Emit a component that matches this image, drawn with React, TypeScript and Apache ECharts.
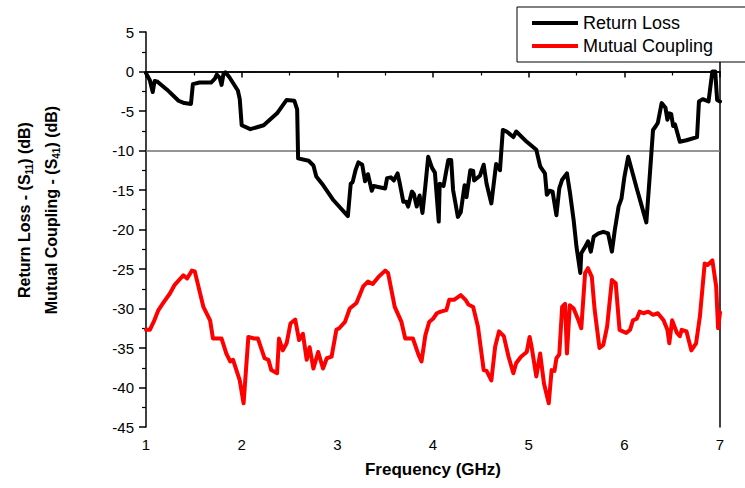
import React, { useEffect, useRef } from "react";
import * as echarts from "echarts";

// [frequency GHz, dB]
const returnLossPoints: [number, number][] = [
  [1.00,-0.2],[1.04,-1.1],[1.07,-2.6],[1.09,-1.2],[1.12,-1.3],[1.22,-2.3],[1.34,-3.7],[1.40,-4.0],[1.47,-4.1],[1.49,-1.6],
  [1.56,-1.4],[1.68,-1.4],[1.72,-0.9],[1.74,-0.4],[1.77,-0.8],[1.79,-1.7],[1.81,-0.3],[1.83,-0.1],[1.87,-0.7],[1.96,-2.4],
  [1.98,-3.5],[2.00,-6.8],[2.09,-7.3],[2.23,-6.8],[2.37,-5.3],[2.47,-3.6],[2.55,-3.7],[2.58,-4.8],[2.59,-11.0],[2.70,-11.3],
  [2.75,-11.9],[2.78,-13.3],[2.84,-14.2],[2.96,-16.3],[3.11,-18.3],[3.14,-14.2],[3.16,-14.0],[3.19,-12.5],[3.22,-11.5],[3.26,-11.8],
  [3.29,-13.9],[3.32,-13.0],[3.36,-15.1],[3.38,-14.5],[3.50,-14.8],[3.52,-13.5],[3.56,-13.4],[3.59,-13.8],[3.63,-12.9],[3.65,-14.0],
  [3.69,-16.5],[3.72,-16.5],[3.74,-17.1],[3.78,-15.2],[3.80,-15.5],[3.83,-17.1],[3.86,-15.7],[3.89,-17.9],[3.92,-14.5],[3.95,-10.8],
  [3.99,-12.2],[4.02,-12.8],[4.06,-19.0],[4.07,-14.2],[4.11,-14.5],[4.16,-11.2],[4.19,-11.2],[4.21,-15.0],[4.26,-18.4],[4.29,-17.8],
  [4.33,-14.4],[4.35,-15.9],[4.39,-12.5],[4.42,-12.6],[4.43,-13.8],[4.49,-13.2],[4.53,-11.8],[4.56,-14.2],[4.61,-16.7],[4.65,-12.7],
  [4.66,-11.7],[4.70,-12.5],[4.73,-7.4],[4.77,-7.6],[4.84,-8.3],[4.87,-7.6],[4.98,-8.9],[5.08,-9.9],[5.12,-12.0],[5.17,-12.9],
  [5.19,-15.6],[5.22,-15.1],[5.25,-15.2],[5.29,-18.2],[5.32,-14.8],[5.35,-13.7],[5.40,-12.9],[5.43,-15.2],[5.47,-18.8],[5.50,-22.2],
  [5.54,-25.5],[5.55,-23.0],[5.59,-22.2],[5.62,-21.5],[5.65,-22.8],[5.68,-20.9],[5.73,-20.5],[5.78,-20.3],[5.83,-20.5],[5.87,-22.8],
  [5.90,-20.1],[5.94,-17.1],[5.97,-16.1],[6.00,-13.4],[6.04,-10.8],[6.13,-14.8],[6.23,-19.1],[6.27,-12.5],[6.30,-7.4],[6.33,-6.9],
  [6.35,-6.5],[6.39,-4.0],[6.43,-4.6],[6.45,-6.1],[6.47,-5.3],[6.49,-5.4],[6.51,-6.9],[6.53,-6.7],[6.58,-8.9],[6.65,-8.7],
  [6.76,-8.3],[6.78,-3.8],[6.82,-3.5],[6.88,-3.8],[6.92,0.0],[6.95,0.0],[6.97,-3.6],[7.00,-3.8]
];

const mutualCouplingPoints: [number, number][] = [
  [1.00,-32.7],[1.04,-32.7],[1.08,-31.7],[1.13,-30.2],[1.18,-29.3],[1.25,-28.1],[1.30,-27.0],[1.36,-26.2],[1.39,-25.8],[1.43,-26.2],
  [1.48,-25.2],[1.51,-25.3],[1.60,-29.8],[1.67,-31.5],[1.70,-33.8],[1.79,-33.8],[1.84,-35.7],[1.88,-36.7],[1.91,-36.5],[1.95,-38.0],
  [1.98,-39.1],[2.02,-42.0],[2.07,-33.6],[2.13,-33.8],[2.17,-33.8],[2.24,-36.3],[2.28,-36.5],[2.31,-37.8],[2.37,-38.2],[2.39,-33.8],
  [2.43,-35.3],[2.47,-34.4],[2.51,-31.9],[2.56,-31.4],[2.60,-34.0],[2.64,-33.2],[2.68,-36.5],[2.71,-34.9],[2.75,-37.6],[2.80,-35.5],
  [2.85,-37.6],[2.89,-36.3],[2.94,-36.1],[2.99,-32.7],[3.02,-32.5],[3.08,-31.7],[3.13,-30.0],[3.20,-29.3],[3.27,-27.2],[3.32,-26.6],
  [3.37,-26.9],[3.43,-26.0],[3.50,-25.2],[3.53,-25.5],[3.60,-29.8],[3.67,-31.7],[3.71,-33.8],[3.79,-33.8],[3.85,-35.9],[3.88,-36.7],
  [3.92,-33.4],[3.96,-31.7],[4.00,-31.3],[4.04,-30.6],[4.08,-30.4],[4.14,-30.2],[4.17,-28.9],[4.22,-28.9],[4.29,-28.3],[4.34,-28.9],
  [4.37,-29.5],[4.42,-29.8],[4.47,-32.3],[4.53,-37.8],[4.56,-37.9],[4.61,-39.1],[4.65,-34.8],[4.69,-32.9],[4.74,-33.5],[4.79,-36.1],
  [4.84,-38.2],[4.87,-36.9],[4.92,-36.1],[4.98,-35.5],[5.01,-33.6],[5.03,-34.8],[5.08,-38.6],[5.12,-35.7],[5.16,-39.5],[5.21,-42.0],
  [5.24,-37.8],[5.27,-37.9],[5.29,-36.3],[5.32,-35.8],[5.35,-29.8],[5.38,-29.4],[5.40,-35.7],[5.43,-29.6],[5.47,-30.0],[5.52,-31.5],
  [5.55,-32.5],[5.59,-25.5],[5.62,-24.9],[5.66,-26.0],[5.69,-30.2],[5.74,-35.0],[5.78,-34.6],[5.82,-32.3],[5.87,-26.4],[5.91,-26.8],
  [5.95,-32.7],[6.02,-33.1],[6.06,-32.7],[6.09,-31.5],[6.13,-31.3],[6.16,-30.4],[6.20,-30.6],[6.25,-30.4],[6.30,-30.8],[6.35,-30.6],
  [6.41,-31.5],[6.45,-32.7],[6.47,-34.4],[6.50,-31.5],[6.55,-33.1],[6.58,-33.5],[6.60,-32.7],[6.65,-32.9],[6.70,-35.3],[6.75,-34.4],
  [6.79,-31.0],[6.84,-24.3],[6.87,-24.5],[6.92,-23.9],[6.96,-27.2],[6.98,-32.5],[7.00,-30.5]
];

const seriesNames = ["Return Loss", "Mutual Coupling"];
const thresholdDb = -10;
const xRange = { min: 1, max: 7, interval: 1 };
const yRange = { min: -45, max: 5, interval: 5 };

const FONT = "'Liberation Sans', Arial, sans-serif";

export default function App() {
  const ref = useRef<HTMLDivElement>(null);
  useEffect(() => {
    if (!ref.current) return;
    const chart = echarts.init(ref.current, undefined, { renderer: "svg" });
    const axisLine = { show: true, lineStyle: { color: "#000", width: 1.5 } };
    const titleRich = {
      b: { fontSize: 16, fontWeight: "bold", fontFamily: FONT, color: "#000", lineHeight: 20 },
      s: { fontSize: 10, fontWeight: "bold", fontFamily: FONT, color: "#000", lineHeight: 12, verticalAlign: "bottom" },
    };
    chart.setOption({
      animation: false,
      backgroundColor: "#fff",
      grid: { left: 146, right: 25, top: 32, bottom: 61, containLabel: false },
      legend: {
        data: seriesNames,
        orient: "vertical",
        left: 517,
        top: 7,
        icon: "rect",
        itemWidth: 46,
        itemHeight: 4,
        itemGap: 5,
        padding: [7, 60, 7, 15],
        backgroundColor: "#fff",
        borderColor: "#000",
        borderWidth: 1,
        borderRadius: 0,
        selectedMode: false,
        textStyle: { fontSize: 18, color: "#000", fontFamily: FONT, lineHeight: 18, padding: [0, 0, 0, 0] },
      },
      xAxis: [
        {
          type: "value",
          ...xRange,
          position: "bottom",
          axisLine,
          axisTick: { show: true, inside: false, length: 6, lineStyle: { color: "#000", width: 1.5 } },
          minorTick: { show: true, splitNumber: 2, length: 4, lineStyle: { color: "#000", width: 1.2 } },
          axisLabel: { fontSize: 15, color: "#000", fontFamily: FONT, margin: 10 },
          splitLine: { show: false },
          name: "Frequency (GHz)",
          nameLocation: "middle",
          nameGap: 34,
          nameTextStyle: { fontSize: 17, fontWeight: "bold", color: "#000", fontFamily: FONT },
        },
        {
          type: "value",
          ...xRange,
          position: "top",
          axisLine,
          axisTick: { show: false },
          axisLabel: { show: false },
          splitLine: { show: false },
        },
      ],
      yAxis: [
        {
          type: "value",
          ...yRange,
          position: "left",
          axisLine,
          axisTick: { show: true, inside: false, length: 7, lineStyle: { color: "#000", width: 1.5 } },
          minorTick: { show: true, splitNumber: 2, length: 4, lineStyle: { color: "#000", width: 1.2 } },
          axisLabel: { fontSize: 15, color: "#000", fontFamily: FONT, margin: 12 },
          splitLine: { show: false },
        },
        {
          type: "value",
          ...yRange,
          position: "right",
          axisLine,
          axisTick: { show: false },
          axisLabel: { show: false },
          splitLine: { show: false },
        },
      ],
      series: [
        {
          name: seriesNames[0],
          type: "line",
          data: returnLossPoints,
          showSymbol: false,
          symbol: "none",
          color: "#000",
          lineStyle: { color: "#000", width: 4, join: "round", cap: "round" },
          z: 3,
          markLine: {
            silent: true,
            symbol: "none",
            label: { show: false },
            lineStyle: { color: "#707070", width: 1.5, type: "solid" },
            data: [{ yAxis: thresholdDb }],
            z: 1,
          },
        },
        {
          name: seriesNames[1],
          type: "line",
          data: mutualCouplingPoints,
          showSymbol: false,
          symbol: "none",
          color: "#ff0000",
          lineStyle: { color: "#ff0000", width: 4, join: "round", cap: "round" },
          z: 2,
        },
      ],
      graphic: [
        {
          type: "text",
          x: 24,
          y: 210,
          rotation: Math.PI / 2,
          style: {
            text: "{b|Return Loss - (S}{s|11}{b|) (dB)}",
            rich: titleRich,
            align: "center",
            verticalAlign: "middle",
          },
        },
        {
          type: "text",
          x: 51,
          y: 210,
          rotation: Math.PI / 2,
          style: {
            text: "{b|Mutual Coupling - (S}{s|41}{b|) (dB)}",
            rich: titleRich,
            align: "center",
            verticalAlign: "middle",
          },
        },
      ],
    });
    return () => chart.dispose();
  }, []);
  return (
    <div
      ref={ref}
      style={{ position: "fixed", left: 0, top: 0, width: 745, height: 488, background: "#fff" }}
    />
  );
}
